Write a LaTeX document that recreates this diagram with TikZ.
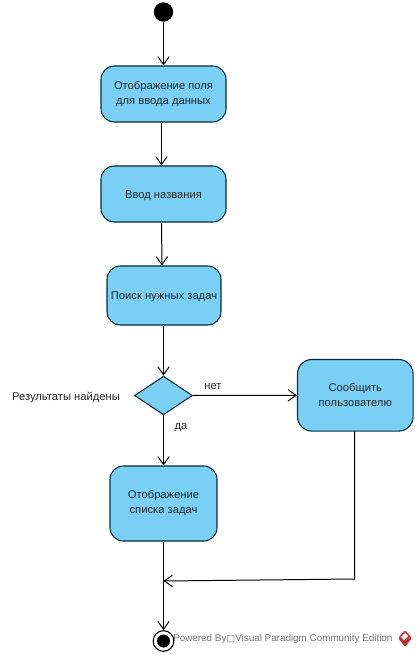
\documentclass[tikz,border=0pt]{standalone}
\usepackage{fontspec}
\setmainfont{Liberation Sans}
\newfontfamily\boxfont{DejaVu Sans}
\usetikzlibrary{arrows.meta,shapes.geometric}
\definecolor{actfill}{RGB}{122,207,245}
\definecolor{actline}{RGB}{8,40,58}
\definecolor{logored}{RGB}{200,62,62}
\definecolor{logodark}{RGB}{150,40,45}
\tikzset{
	activity/.style={draw=actline, fill=actfill, rounded corners=10pt, line width=0.8pt, align=center, inner sep=0pt, execute at begin node={\rule{0pt}{8pt}}},
	twolines/.style={execute at begin node={\rule{0pt}{#1}}},
	decision/.style={draw=actline, fill=actfill, diamond, aspect=1.49, line width=0.8pt, inner sep=0pt, minimum width=43.5pt, minimum height=29pt},
	flow/.style={-{Straight Barb[length=6pt,width=8.5pt]}, line width=0.75pt, black},
	note/.style={inner sep=0pt},
	every node/.append style={font=\fontsize{8.4}{11.25}\selectfont, text=black!85}
}
\begin{document}
\begin{tikzpicture}[x=0.75pt, y=-0.75pt]
	\useasboundingbox (0,0) rectangle (417,655);

	\node[circle, fill=black, inner sep=0pt, minimum size=14.5pt] (Start) at (163.5,12) {};
	\node[activity, twolines=9.5pt, minimum width=93.75pt, minimum height=42pt] (Show) at (163.5,94) {Отображение поля\\для ввода данных};
	\node[activity, minimum width=93.75pt, minimum height=42pt] (Input) at (163.5,194) {Ввод названия};
	\node[activity, minimum width=85.5pt, minimum height=44.25pt] (Search) at (164,295.5) {Поиск нужных задач};
	\node[decision] (Found) at (163.5,395.5) {};
	\node[activity, twolines=9.5pt, minimum width=86.75pt, minimum height=53.75pt, rounded corners=11pt] (Notify) at (355.3,395.3) {Сообщить\\пользователю};
	\node[activity, twolines=10.5pt, minimum width=80.25pt, minimum height=56.25pt] (List) at (163.5,503.5) {Отображение\\списка задач};
	\node[circle, draw=black, fill=white, line width=0.8pt, inner sep=0pt, minimum size=15.5pt] (End) at (163.5,641) {};
	\node[circle, fill=black, inner sep=0pt, minimum size=9.75pt] (EndDot) at (End) {};

	\coordinate (Merge) at (163.5,581);
	\coordinate (MergeCorner) at (354.5,579);

	\node[note] (FoundLabel) at (66,397.5) {Результаты найдены};
	\node[note] (NoLabel) at (213,386.5) {нет};
	\node[note] (YesLabel) at (181,427.5) {да};
	\node[note, font=\fontsize{7.4}{10}\selectfont, text=black!55, anchor=west] (Powered) at (173,638.5) {Powered By{\boxfont\fontsize{7}{10}\selectfont □}Visual Paradigm Community Edition};

	\draw[flow] (Start) -- (Show.north -| Start);
	\draw[flow] ([xshift=-1.5pt]Show.south) -- ([xshift=-1.5pt]Input.north);
	\draw[flow] ([xshift=-1.5pt]Input.south) -- ([xshift=-1.5pt]Search.north);
	\draw[flow] (Search.south -| Found) -- (Found.north);
	\draw[flow] (Found.east) -- (Notify.west);
	\draw[flow] (Found.south) -- (List.north -| Found);
	\draw[flow] (Notify.south -| MergeCorner) -- (MergeCorner) -- (Merge);
	\draw[flow] (List.south -| End) -- (End.north);

	% logo
	\fill[logored, rounded corners=1pt] (405,630) -- (412,638) -- (405,647) -- (398,638) -- cycle;
	\fill[logodark] (400,639) -- (405,644) -- (410,639) -- (405,642) -- cycle;
	\fill[white] (401,637) -- (405,633) -- (408,636) -- (404,640) -- cycle;
\end{tikzpicture}
\end{document}
